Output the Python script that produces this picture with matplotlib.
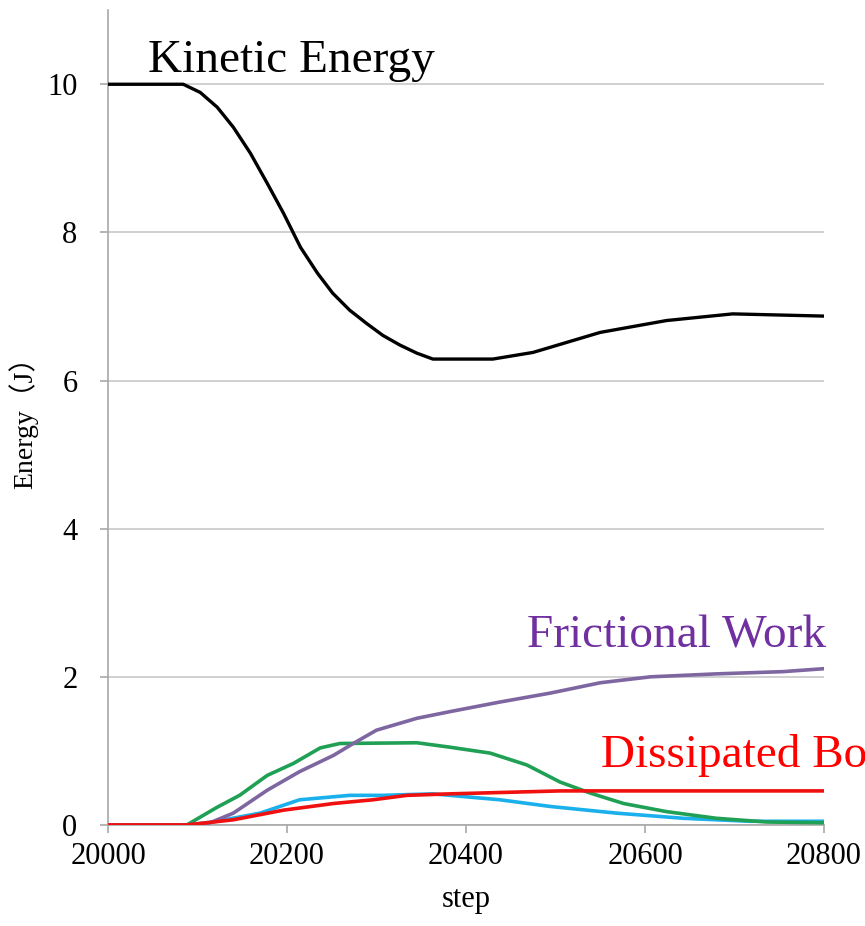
import matplotlib
matplotlib.use("Agg")
import matplotlib.pyplot as plt

# kinetic energy (black)
ke_step = [20000, 20084, 20103, 20122, 20140, 20159, 20178, 20196, 20215, 20234,
           20251, 20270, 20289, 20307, 20326, 20345, 20363, 20430, 20475, 20550,
           20624, 20698, 20800]
ke_val = [10.0, 10.0, 9.89, 9.69, 9.42, 9.07, 8.66, 8.26, 7.80, 7.45,
          7.18, 6.95, 6.77, 6.61, 6.48, 6.37, 6.29, 6.29, 6.38, 6.65,
          6.81, 6.90, 6.87]

# frictional work (purple)
fw_step = [20000, 20088, 20114, 20140, 20178, 20214, 20252, 20274, 20300, 20345,
           20382, 20438, 20494, 20550, 20606, 20680, 20754, 20800]
fw_val = [0, 0, 0.03, 0.16, 0.47, 0.72, 0.94, 1.10, 1.28, 1.44,
          1.53, 1.66, 1.78, 1.92, 2.00, 2.04, 2.07, 2.11]

# green curve
gr_step = [20000, 20088, 20122, 20147, 20178, 20207, 20237, 20259, 20345, 20382,
           20427, 20468, 20505, 20539, 20576, 20624, 20680, 20736, 20800]
gr_val = [0, 0, 0.24, 0.40, 0.67, 0.83, 1.04, 1.10, 1.11, 1.05,
          0.97, 0.81, 0.58, 0.43, 0.29, 0.18, 0.09, 0.04, 0.03]

# cyan curve
cy_step = [20000, 20088, 20117, 20170, 20214, 20270, 20307, 20363, 20438, 20494,
           20568, 20643, 20717, 20800]
cy_val = [0, 0, 0.04, 0.16, 0.34, 0.40, 0.40, 0.42, 0.34, 0.25,
          0.16, 0.09, 0.05, 0.05]

# dissipated (red)
rd_step = [20000, 20088, 20140, 20196, 20252, 20296, 20334, 20382, 20505, 20800]
rd_val = [0, 0, 0.07, 0.20, 0.29, 0.34, 0.40, 0.42, 0.46, 0.46]

xticks = [20000, 20200, 20400, 20600, 20800]
yticks = [0, 2, 4, 6, 8, 10]

SERIF = "Liberation Serif"
plt.rcParams["font.family"] = [SERIF, "Noto Sans CJK JP", "DejaVu Sans"]

fig = plt.figure(figsize=(8.65, 9.26), dpi=100)
ax = fig.add_axes([0.1249, 0.1091, 0.8277, 0.8799])

lw = 2.6
ax.plot(cy_step, cy_val, color="#1ab0ec", lw=lw, zorder=3)
ax.plot(gr_step, gr_val, color="#1fa055", lw=lw, zorder=3)
ax.plot(fw_step, fw_val, color="#7e66a0", lw=lw, zorder=3)
ax.plot(rd_step, rd_val, color="#f01010", lw=lw, zorder=4)
ax.plot(ke_step, ke_val, color="black", lw=2.4, zorder=5)

ax.set_xlim(20000, 20800)
ax.set_ylim(0, 11)
ax.set_xticks(xticks)
ax.set_yticks(yticks)
ax.grid(axis="y", color="#c8c8c8", lw=1.2)
ax.set_axisbelow(True)

for s in ["top", "right"]:
    ax.spines[s].set_visible(False)
for s in ["left", "bottom"]:
    ax.spines[s].set_color("#a8a8a8")
    ax.spines[s].set_linewidth(1.2)

ax.tick_params(axis="y", length=6, width=1.2, color="#a8a8a8", pad=16, labelsize=22)
ax.tick_params(axis="x", length=6, width=1.2, color="#a8a8a8", pad=6, labelsize=22)

ax.set_xlabel("step", fontsize=22, labelpad=10)
ax.set_ylabel("Energy（J）", fontsize=20, labelpad=10)
ax.yaxis.set_label_coords(-0.097, 0.502)

ax.text(20045, 10.16, "Kinetic Energy", fontsize=34, color="black", va="baseline")
ax.text(20468, 2.40, "Frictional Work", fontsize=34, color="#7030a0", va="baseline")
# the label runs past the right edge of the figure, as in the source
ax.text(20551, 0.78, "Dissipated Body", fontsize=34, color="#ff0000", va="baseline")

fig.savefig("out.png", dpi=100)
